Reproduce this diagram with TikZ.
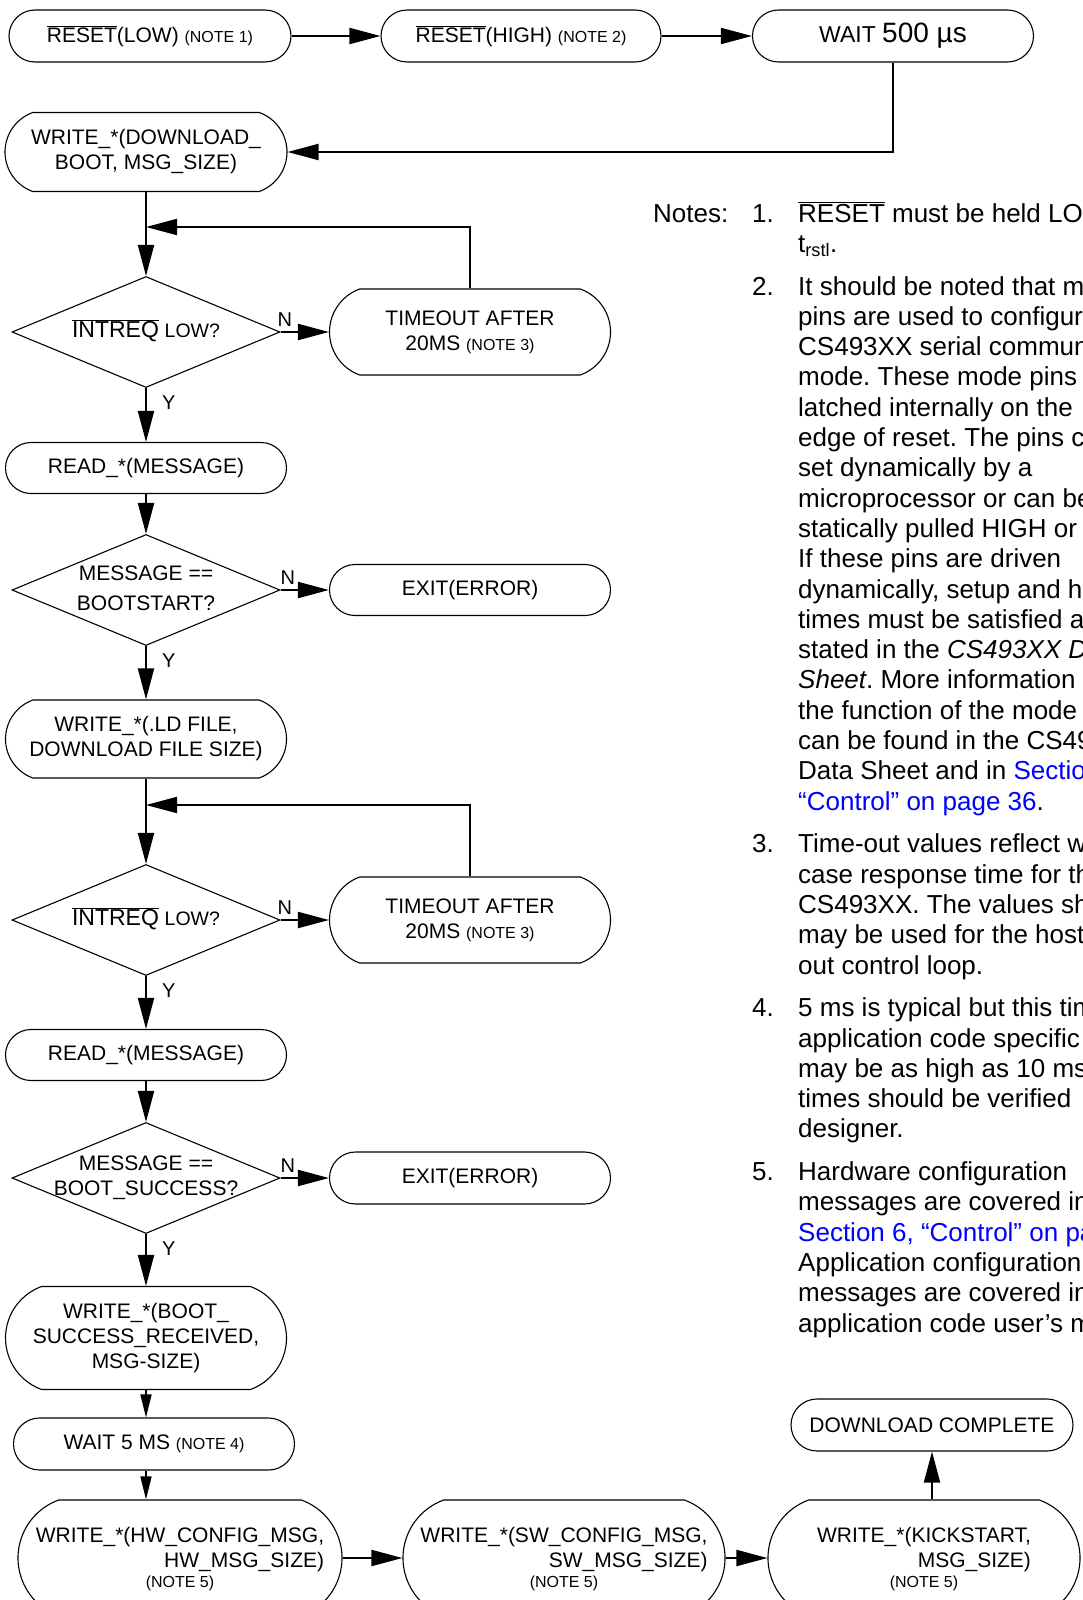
\documentclass[tikz,border=0pt]{standalone}
\usepackage{fontspec}
\setmainfont{Liberation Sans}
\usetikzlibrary{arrows.meta,shapes.geometric,shapes.misc}
\definecolor{linkblue}{HTML}{0000FF}
\newcommand{\nbar}[1]{$\overline{\mbox{#1}}$}
\newcommand{\sm}{\fontsize{16}{19}\selectfont}
\newcommand{\lnk}[1]{{\color{linkblue}#1}}
\newcommand{\dtxt}[1]{\makebox[0pt]{\begin{tabular}{@{}c@{}}#1\end{tabular}}}
\frenchspacing
\tikzset{
  ar/.style={-{Triangle[length=31pt,width=16pt]},line width=2pt},
  sar/.style={-{Triangle[length=23pt,width=11pt]},line width=1.4pt},
  box/.style={draw,line width=1.1pt,rounded rectangle,minimum width=285pt,minimum height=52pt,align=center,inner sep=2pt,font=\fontsize{21}{25}\selectfont},
  tallbox/.style={box,rounded rectangle arc length=140},
  dec/.style={draw,line width=1.1pt,diamond,minimum width=268pt,minimum height=111pt,inner sep=0pt,font=\fontsize{21}{25}\selectfont},
  lbl/.style={font=\fontsize{20}{24}\selectfont,inner sep=1pt}
}
\begin{document}
\begin{tikzpicture}[x=1pt,y=-1pt]
\useasboundingbox (0,0) rectangle (1083,1600);
% top row
\node[box,minimum width=286pt] (b1) at (150,36) {\nbar{RESET}(LOW) {\sm (NOTE 1)}};
\node[box,minimum width=284pt] (b2) at (521,36) {\nbar{RESET}(HIGH) {\sm (NOTE 2)}};
\node[box,font=\fontsize{23}{27}\selectfont] (b3) at (893,36) {WAIT {\fontsize{28}{32}\selectfont 500 µs}};
% main column
\node[tallbox,minimum width=286pt,minimum height=79pt] (wdb) at (146,152) {WRITE\_*(DOWNLOAD\_\\BOOT, MSG\_SIZE)};
\coordinate (j1) at (146,227);
\node[dec] (int1) at (146,332) {\dtxt{{\fontsize{23}{27}\selectfont\nbar{INTREQ}} {\fontsize{19.5}{23}\selectfont LOW?}}};
\node[tallbox,minimum height=86pt] (to1) at (470,332) {TIMEOUT AFTER\\20MS {\sm (NOTE 3)}};
\node[box,minimum height=51pt] (rd1) at (146,468) {READ\_*(MESSAGE)};
\node[dec] (msg1) at (146,590) {\dtxt{MESSAGE ==\\[5pt]BOOTSTART?}};
\node[box,minimum height=51pt] (ex1) at (470,590) {EXIT(ERROR)};
\node[tallbox,minimum height=78pt] (wld) at (146,739) {WRITE\_*(.LD FILE,\\DOWNLOAD FILE SIZE)};
\coordinate (j2) at (146,805);
\node[dec] (int2) at (146,920) {\dtxt{{\fontsize{23}{27}\selectfont\nbar{INTREQ}} {\fontsize{19.5}{23}\selectfont LOW?}}};
\node[tallbox,minimum height=86pt] (to2) at (470,920) {TIMEOUT AFTER\\20MS {\sm (NOTE 3)}};
\node[box,minimum height=51pt] (rd2) at (146,1055) {READ\_*(MESSAGE)};
\node[dec] (msg2) at (146,1178) {\dtxt{MESSAGE ==\\BOOT\_SUCCESS?}};
\node[box] (ex2) at (470,1178) {EXIT(ERROR)};
\node[tallbox,minimum height=103pt] (wbs) at (146,1338) {WRITE\_*(BOOT\_\\SUCCESS\_RECEIVED,\\MSG-SIZE)};
\node[box] (w5) at (154,1444) {WAIT 5 MS {\sm (NOTE 4)}};
% bottom row
\node[tallbox,minimum width=328pt,minimum height=116pt] (hw) at (180,1558) {\begin{tabular}{@{}r@{}}WRITE\_*(HW\_CONFIG\_MSG,\\HW\_MSG\_SIZE)\end{tabular}\\{\sm (NOTE 5)}};
\node[tallbox,minimum width=326pt,minimum height=116pt] (sw) at (564,1558) {\begin{tabular}{@{}r@{}}WRITE\_*(SW\_CONFIG\_MSG,\\SW\_MSG\_SIZE)\end{tabular}\\{\sm (NOTE 5)}};
\node[tallbox,minimum width=316pt,minimum height=116pt] (ks) at (924,1558) {\begin{tabular}{@{}r@{}}WRITE\_*(KICKSTART,\\MSG\_SIZE)\end{tabular}\\{\sm (NOTE 5)}};
\node[box,minimum width=286pt] (dc) at (932,1425) {DOWNLOAD COMPLETE};
% notes
\node[anchor=base west,inner sep=0pt,font=\fontsize{26}{30.3}\selectfont] (notes) at (653,222) {%
\begin{tabular}[t]{@{}p{99pt}@{}p{46pt}@{}l@{}}
Notes: & 1. & \nbar{RESET} must be held LOW\\
 & & t\textsubscript{rstl}.\\[12.4pt]
 & 2. & It should be noted that mode\\
 & & pins are used to configure\\
 & & CS493XX serial communication\\
 & & mode. These mode pins\\
 & & latched internally on the\\
 & & edge of reset. The pins can\\
 & & set dynamically by a\\
 & & microprocessor or can be\\
 & & statically pulled HIGH or\\
 & & If these pins are driven\\
 & & dynamically, setup and hold\\
 & & times must be satisfied as\\
 & & stated in the \textit{CS493XX Data}\\
 & & \textit{Sheet}. More information\\
 & & the function of the mode\\
 & & can be found in the CS493XX\\
 & & Data Sheet and in \lnk{Section}\\
 & & \lnk{“Control” on page 36}.\\[12.4pt]
 & 3. & Time-out values reflect worst\\
 & & case response time for the\\
 & & CS493XX. The values shown\\
 & & may be used for the host\\
 & & out control loop.\\[12.4pt]
 & 4. & 5 ms is typical but this time\\
 & & application code specific\\
 & & may be as high as 10 ms\\
 & & times should be verified\\
 & & designer.\\[12.4pt]
 & 5. & Hardware configuration\\
 & & messages are covered in\\
 & & \lnk{Section 6, “Control” on page}\\
 & & Application configuration\\
 & & messages are covered in\\
 & & application code user’s manual
\end{tabular}};
% connectors
\draw[ar] (b1.east) -- (b2.west);
\draw[ar] (b2.east) -- (b3.west);
\draw[ar] (b3.south) |- (wdb.east);
\draw[ar] (wdb.south) -- (int1.north);
\draw[ar] (to1.north) |- (j1);
\draw[ar] (int1.east) -- node[lbl,pos=0,anchor=south west,xshift=-5pt,yshift=4pt] (n1) {N} (to1.west);
\draw[ar] (int1.south) -- node[lbl,pos=0,anchor=north west,xshift=14pt,yshift=-6pt] (y1) {Y} (rd1.north);
\draw[ar] (rd1.south) -- (msg1.north);
\draw[ar] (msg1.east) -- node[lbl,pos=0,anchor=south west,xshift=-2pt,yshift=4pt] (n2) {N} (ex1.west);
\draw[ar] (msg1.south) -- node[lbl,pos=0,anchor=north west,xshift=14pt,yshift=-6pt] (y2) {Y} (wld.north);
\draw[ar] (wld.south) -- (int2.north);
\draw[ar] (to2.north) |- (j2);
\draw[ar] (int2.east) -- node[lbl,pos=0,anchor=south west,xshift=-5pt,yshift=4pt] (n3) {N} (to2.west);
\draw[ar] (int2.south) -- node[lbl,pos=0,anchor=north west,xshift=14pt,yshift=-6pt] (y3) {Y} (rd2.north);
\draw[ar] (rd2.south) -- (msg2.north);
\draw[ar] (msg2.east) -- node[lbl,pos=0,anchor=south west,xshift=-2pt,yshift=4pt] (n4) {N} (ex2.west);
\draw[ar] (msg2.south) -- node[lbl,pos=0,anchor=north west,xshift=14pt,yshift=-6pt] (y4) {Y} (wbs.north);
\draw[sar] (wbs.south) -- (wbs.south |- w5.north);
\draw[sar] (wbs.south |- w5.south) -- (wbs.south |- hw.north);
\draw[ar] (hw.east) -- (sw.west);
\draw[ar] (sw.east) -- (ks.west);
\draw[ar] (dc.south |- ks.north) -- (dc.south);
\end{tikzpicture}
\end{document}
